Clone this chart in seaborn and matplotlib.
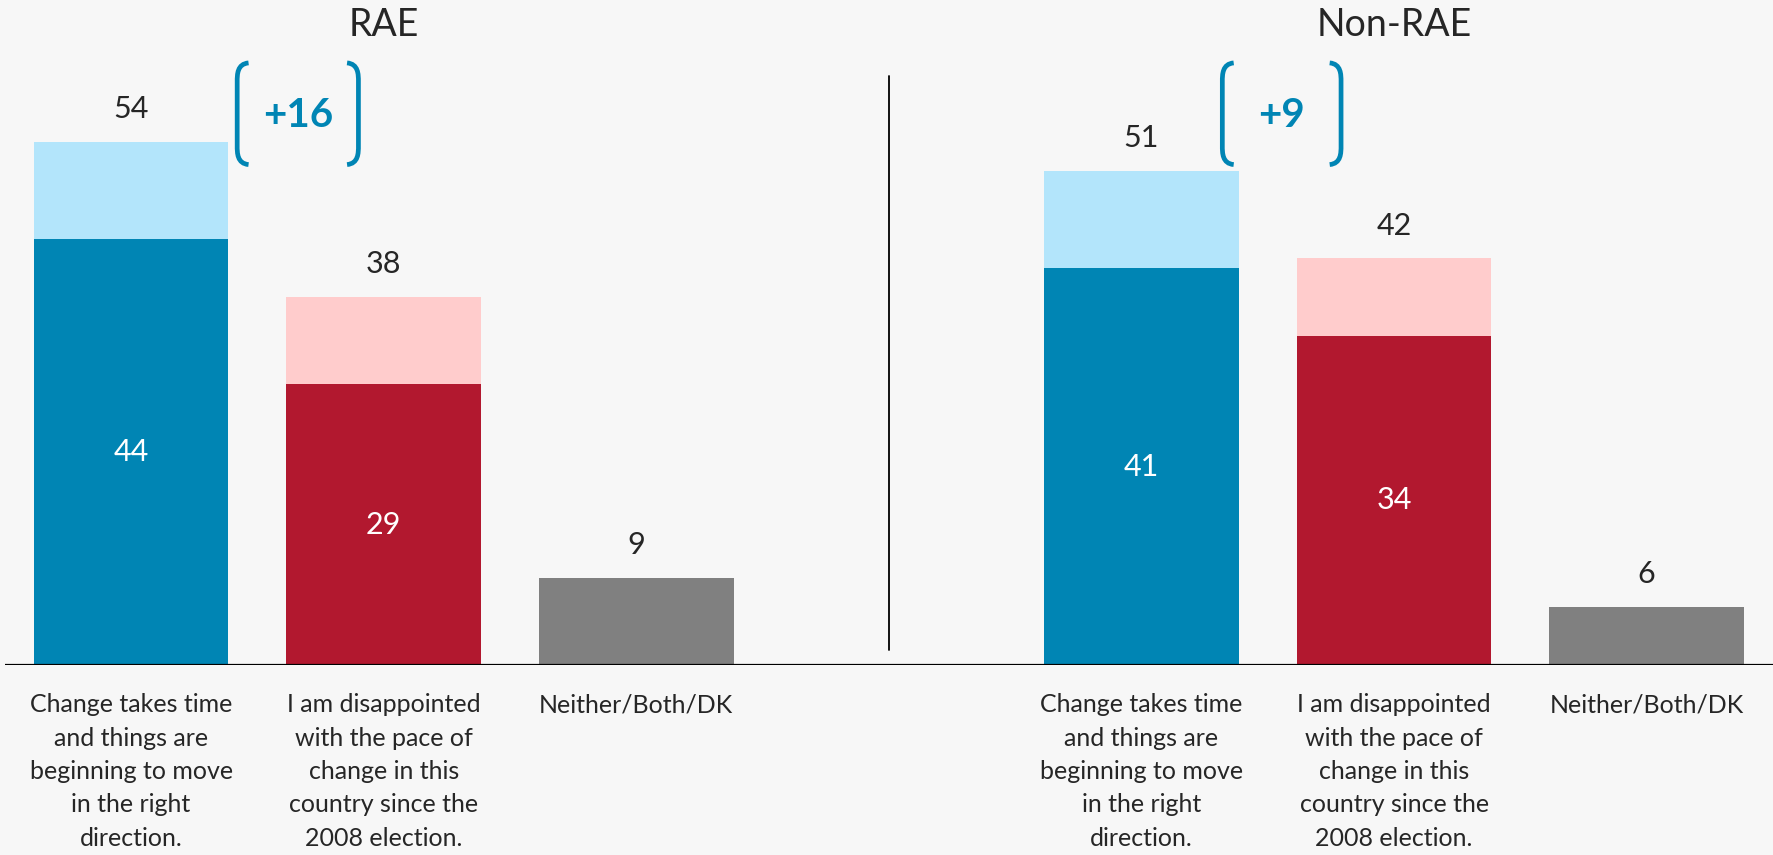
import pandas as pd
import matplotlib.pyplot as plt
import seaborn as sns
from matplotlib.path import Path
from matplotlib.patches import PathPatch

# data
groups = ["RAE", "Non-RAE"]
answers = ["Change takes time\nand things are\nbeginning to move\nin the right\ndirection.",
           "I am disappointed\nwith the pace of\nchange in this\ncountry since the\n2008 election.",
           "Neither/Both/DK"]
totals = {"RAE": [54, 38, 9], "Non-RAE": [51, 42, 6]}
strong = {"RAE": [44, 29, 9], "Non-RAE": [41, 34, 6]}
gaps = {"RAE": "+16", "Non-RAE": "+9"}

light_cols = ["#B3E5FB", "#FFCCCC", "#808080"]
dark_cols = ["#0085B4", "#B2182F", "#808080"]

rows = []
for g in groups:
    for i, a in enumerate(answers):
        rows.append({"key": f"{g}|{i}", "group": g, "idx": i, "answer": a,
                     "total": totals[g][i], "strong": strong[g][i]})
df = pd.DataFrame(rows)
order = ["RAE|0", "RAE|1", "RAE|2", "gap", "Non-RAE|0", "Non-RAE|1", "Non-RAE|2"]
light_pal = {r.key: light_cols[r.idx] for r in df.itertuples()}
dark_pal = {r.key: dark_cols[r.idx] for r in df.itertuples()}

sns.set_style("white")
plt.rcParams['font.family'] = ['Lato', 'DejaVu Sans']

fig = plt.figure(figsize=(17.73, 8.55), dpi=100, facecolor="#F7F7F7")
ax = fig.add_axes([0.0027, 190 / 855, 0.9973, 665 / 855])
ax.set_facecolor("none")

sns.barplot(data=df, x="key", y="total", order=order, hue="key", palette=light_pal,
            width=0.77, saturation=1, legend=False, linewidth=0, ax=ax)
sns.barplot(data=df, x="key", y="strong", order=order, hue="key", palette=dark_pal,
            width=0.77, saturation=1, legend=False, linewidth=0, ax=ax)

ax.set_xlim(-0.5, 6.5)
ax.set_ylim(0, 68.7)
ax.axis("off")
ax.axhline(0, color="black", lw=1.6, zorder=5)
ax.plot([3, 3], [1.5, 60.8], color="black", lw=1.3)


def bracket(x, y0, y1, side):
    # rounded bracket: vertical stroke with short curled ends
    d = 0.045 if side == "left" else -0.045
    h = 1.2
    verts = [(x + d, y1), (x, y1 - 0.1), (x, y1 - h), (x, y1 - h * 1.6),
             (x, y0 + h * 1.6),
             (x, y0 + h), (x, y0 + 0.1), (x + d, y0)]
    codes = [Path.MOVETO, Path.CURVE4, Path.CURVE4, Path.CURVE4,
             Path.LINETO,
             Path.CURVE4, Path.CURVE4, Path.CURVE4]
    ax.add_patch(PathPatch(Path(verts, codes), fill=False, edgecolor="#0085B4",
                           lw=3.4, capstyle="butt", clip_on=False))


for gi, g in enumerate(groups):
    base = gi * 4
    ax.text(base + 1, 66.1, g, ha="center", va="center", fontsize=27)
    for i in range(3):
        x = base + i
        ax.text(x, totals[g][i] + 3.4, str(totals[g][i]), ha="center", va="center", fontsize=22)
        if strong[g][i] != totals[g][i]:
            ax.text(x, strong[g][i] / 2, str(strong[g][i]), ha="center", va="center",
                    fontsize=22, color="white")
        ax.text(x, -2.9, answers[i], ha="center", va="top", fontsize=18,
                linespacing=1.55, clip_on=False)
    cx = base + (0.66 if gi == 0 else 0.555)
    hw = 0.24 if gi == 0 else 0.235
    bracket(cx - hw, 51.7, 62.2, "left")
    bracket(cx + hw, 51.7, 62.2, "right")
    ax.text(cx, 56.8, gaps[g], ha="center", va="center", fontsize=29,
            fontweight="bold", color="#0085B4")

fig.savefig("out.png", dpi=100, facecolor=fig.get_facecolor())
